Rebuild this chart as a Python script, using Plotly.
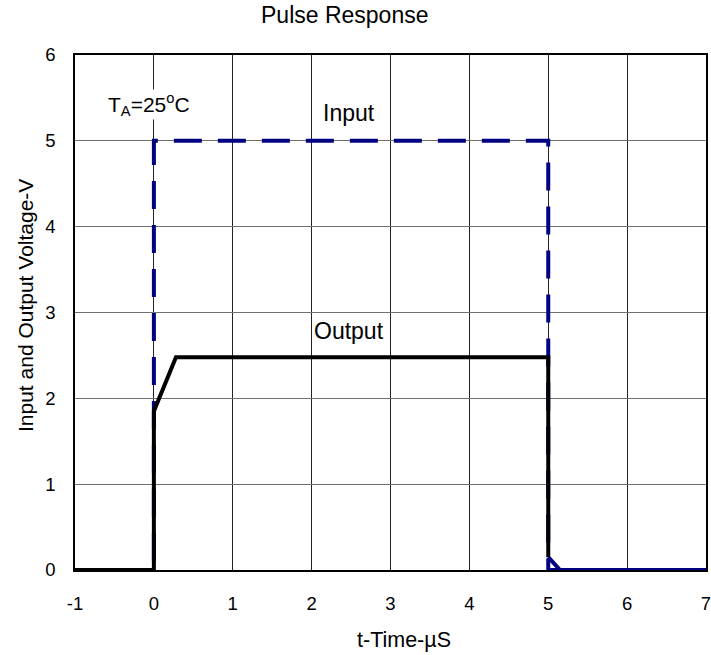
import plotly.graph_objects as go

# Data
input_x = [-1, 0, 0, 5, 5, 7]
input_y = [0, 0, 5, 5, 0, 0]
output_x = [-1, 0, 0, 0.28, 5, 5]
output_y = [0, 0, 1.85, 2.48, 2.48, 0.15]
tail_x = [5, 5.15, 7]
tail_y = [0.15, 0, 0]
x_ticks = [-1, 0, 1, 2, 3, 4, 5, 6, 7]
y_ticks = [0, 1, 2, 3, 4, 5, 6]

FONT = "Liberation Sans, Arial, sans-serif"
L, R, T, B = 75, 706, 55, 570
W, H = 711, 655


def px(xp):
    return (xp - L) / (R - L)


def py(yp):
    return (B - yp) / (B - T)


fig = go.Figure()
fig.add_trace(go.Scatter(x=input_x, y=input_y, mode="lines",
                         line=dict(color="#000080", width=4, dash="28px,16px"),
                         showlegend=False, hoverinfo="skip"))
fig.add_trace(go.Scatter(x=output_x, y=output_y, mode="lines",
                         line=dict(color="black", width=4),
                         showlegend=False, hoverinfo="skip"))
fig.add_trace(go.Scatter(x=tail_x, y=tail_y, mode="lines",
                         line=dict(color="#000080", width=4),
                         showlegend=False, hoverinfo="skip"))

fig.update_layout(
    width=W, height=H,
    margin=dict(l=L, r=W - R, t=T, b=H - B),
    paper_bgcolor="white", plot_bgcolor="white",
    font=dict(family=FONT, size=18, color="black"),
    xaxis=dict(range=[-1, 7], tickvals=x_ticks, ticktext=[str(v) for v in x_ticks],
               showgrid=True, gridcolor="#222222", gridwidth=1,
               showline=True, linecolor="black", linewidth=1.5, mirror=True,
               zeroline=False, ticks="", tickfont=dict(size=18.5),
               ticklabelstandoff=16, ticklabeloverflow="allow",
               automargin=False),
    yaxis=dict(range=[0, 6], tickvals=y_ticks, ticktext=[str(v) for v in y_ticks],
               showgrid=True, gridcolor="#707070", gridwidth=1,
               showline=True, linecolor="black", linewidth=1.5, mirror=True,
               zeroline=False, ticks="", tickfont=dict(size=18.5),
               ticklabelstandoff=14, automargin=False),
    annotations=[
        dict(x=px(345), y=py(15), xref="paper", yref="paper", text="Pulse Response",
             showarrow=False, xanchor="center", yanchor="middle", font=dict(size=23)),
        dict(x=px(404), y=py(640), xref="paper", yref="paper",
             text="t-Time-µS", showarrow=False, xanchor="center", yanchor="middle",
             font=dict(size=21.5)),
        dict(x=px(25), y=py(306), xref="paper", yref="paper",
             text="Input and Output Voltage-V", showarrow=False, textangle=-90,
             xanchor="center", yanchor="middle", font=dict(size=21)),
        dict(x=2.48, y=5.33, xref="x", yref="y", text="Input", showarrow=False,
             font=dict(size=23), bgcolor="white", borderpad=0),
        dict(x=2.48, y=2.78, xref="x", yref="y", text="Output", showarrow=False,
             font=dict(size=23), bgcolor="white", borderpad=0),
        dict(x=-0.06, y=5.42, xref="x", yref="y", text="T<sub>A</sub>=25<sup>o</sup>C",
             showarrow=False, font=dict(size=21), bgcolor="white", borderpad=0),
    ],
)

fig.write_html("out.html", config={"displayModeBar": False},
               post_script="document.body.style.margin='0';document.body.style.padding='0';")
